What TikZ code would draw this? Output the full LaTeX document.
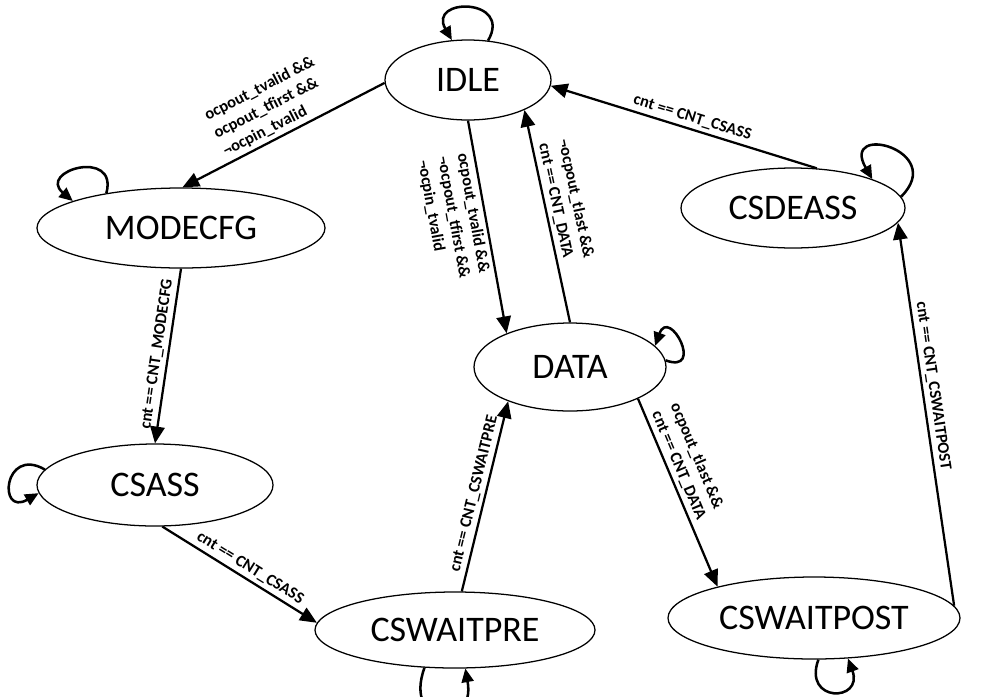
\documentclass[tikz,border=0pt]{standalone}
\usepackage{fontspec}
\setmainfont{Carlito}
\usetikzlibrary{arrows.meta,shapes.geometric}
\tikzset{
  state/.style={draw,ellipse,line width=0.9pt,inner sep=0pt,
                font=\fontsize{25.6}{30}\selectfont},
  trans/.style={-{Triangle[length=4.2mm,width=3.6mm]},line width=1.6pt},
  selfloop/.style={-{Triangle[length=3.4mm,width=3mm]},line width=1.8pt},
  cond/.style={font=\fontsize{11.7}{14.3}\selectfont\bfseries,sloped,
               align=left,inner sep=2.5pt},
}

\begin{document}
\begin{tikzpicture}
  \useasboundingbox (0,0) rectangle (24.775,-17.4);
  % states of the SPI controller
  \node[state,minimum width=4.15cm,minimum height=2cm]    (IDLE)       at (11.70,-2.00)  {IDLE};
  \node[state,minimum width=7.2cm,minimum height=2cm]     (MODECFG)    at (4.525,-5.70)  {MODECFG};
  \node[state,minimum width=5.9cm,minimum height=2.05cm]  (CSASS)      at (3.875,-12.125) {CSASS};
  \node[state,minimum width=7cm,minimum height=1.9cm]     (CSWAITPRE)  at (11.375,-15.75) {CSWAITPRE};
  \node[state,minimum width=4.8cm,minimum height=2.2cm]   (DATA)       at (14.25,-9.175) {DATA};
  \node[state,minimum width=5.6cm,minimum height=2cm]     (CSDEASS)    at (19.825,-5.20) {CSDEASS};
  \node[state,minimum width=7.3cm,minimum height=2.05cm]  (CSWAITPOST) at (20.35,-15.45) {CSWAITPOST};

  % transitions
  \draw[trans] (IDLE.182) -- node[cond,above]
      {ocpout\_tvalid \&\&\\ocpout\_tfirst \&\&\\¬ocpin\_tvalid} (MODECFG.88);
  \draw[trans] (IDLE.south) -- node[cond,below,pos=.43]
      {ocpout\_tvalid \&\&\\¬ocpout\_tfirst \&\&\\¬ocpin\_tvalid} (DATA.152);
  \draw[trans] (DATA.north) -- node[cond,above,pos=.55]
      {¬ocpout\_tlast \&\&\\cnt == CNT\_DATA} (IDLE.-28);
  \draw[trans] (CSDEASS.59) -- node[cond,above,pos=.48] {cnt == CNT\_CSASS} (IDLE.-4);
  \draw[trans] (MODECFG.south) -- node[cond,above] {cnt == CNT\_MODECFG} (CSASS.north);
  \draw[trans] (CSASS.-80) -- node[cond,above,pos=.53] {cnt == CNT\_CSASS} (CSWAITPRE.177);
  \draw[trans] (CSWAITPRE.80) -- node[cond,above] {cnt == CNT\_CSWAITPRE} (DATA.209);
  \draw[trans] (DATA.-25) -- node[cond,above,pos=.38]
      {ocpout\_tlast \&\&\\cnt == CNT\_DATA} (CSWAITPOST.162);
  \draw[trans] (CSWAITPOST.5) -- node[cond,above,pos=.57] {cnt == CNT\_CSWAITPOST} (CSDEASS.-8);

  % self loops (all counter-clockwise)
  \draw[selfloop] (IDLE.63) to[out=60,in=120,looseness=3.5] (IDLE.112);
  \draw[selfloop] (MODECFG.155) to[out=75,in=140,looseness=3.5] (MODECFG.166);
  \draw[selfloop] (CSASS.172) to[out=150,in=210,looseness=5] (CSASS.184);
  \draw[selfloop] (DATA.4) to[out=-20,in=70,looseness=6] (DATA.14);
  \draw[selfloop] (CSDEASS.6) to[out=45,in=120,looseness=5] (CSDEASS.20);
  \draw[selfloop] (CSWAITPRE.231) to[out=250,in=-80,looseness=4] (CSWAITPRE.-75);
  \draw[selfloop] (CSWAITPOST.-84) to[out=250,in=-70,looseness=4] (CSWAITPOST.-50);
\end{tikzpicture}
\end{document}
